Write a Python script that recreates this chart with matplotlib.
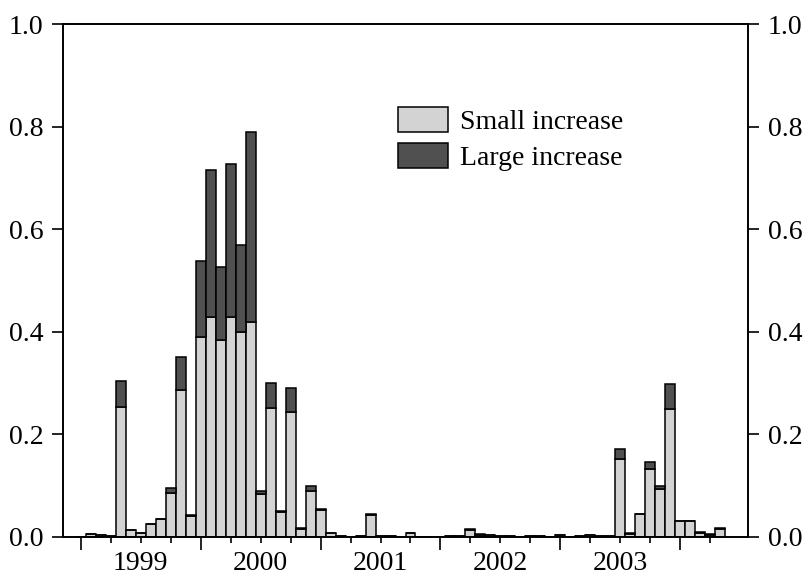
import matplotlib
matplotlib.use("Agg")
import matplotlib.pyplot as plt
from matplotlib.patches import Patch
import numpy as np
import pandas as pd

# monthly observations, Jan 1999 - May 2004
months = pd.period_range("1999-01", "2004-05", freq="M")

small = [0.0, 0.005, 0.003, 0.001, 0.253, 0.013, 0.007, 0.025, 0.036, 0.086, 0.287, 0.041,
         0.389, 0.429, 0.384, 0.428, 0.400, 0.419, 0.083, 0.251, 0.048, 0.244, 0.016, 0.090,
         0.052, 0.008, 0.001, 0.0, 0.001, 0.042, 0.002, 0.001, 0.0, 0.008, 0.0, 0.0,
         0.0, 0.001, 0.002, 0.013, 0.004, 0.004, 0.001, 0.001, 0.0, 0.001, 0.001, 0.0,
         0.003, 0.0, 0.001, 0.003, 0.001, 0.001, 0.152, 0.006, 0.044, 0.132, 0.093, 0.250,
         0.031, 0.031, 0.008, 0.004, 0.016]
large = [0.0, 0.001, 0.001, 0.0, 0.051, 0.0, 0.0, 0.0, 0.0, 0.009, 0.064, 0.002,
         0.149, 0.286, 0.143, 0.300, 0.169, 0.370, 0.007, 0.049, 0.002, 0.047, 0.001, 0.009,
         0.003, 0.0, 0.0, 0.0, 0.0, 0.002, 0.0, 0.0, 0.0, 0.0, 0.0, 0.0,
         0.0, 0.0, 0.0, 0.002, 0.001, 0.0, 0.0, 0.0, 0.0, 0.0, 0.0, 0.0,
         0.0, 0.0, 0.0, 0.0, 0.0, 0.0, 0.019, 0.001, 0.001, 0.014, 0.007, 0.048,
         0.001, 0.001, 0.001, 0.001, 0.001]

year_labels = ["1999", "2000", "2001", "2002", "2003"]
yticks = [0.0, 0.2, 0.4, 0.6, 0.8, 1.0]

plt.rcParams["font.family"] = ["Liberation Serif", "DejaVu Serif"]
plt.rcParams["font.size"] = 20

LIGHT = "#d3d3d3"
DARK = "#505050"

fig = plt.figure(figsize=(8.07, 5.78), dpi=100)
ax = fig.add_axes([62.7 / 807, 1 - 537 / 578, (748.3 - 62.7) / 807, (537 - 24) / 578])

x = np.arange(len(months))
small = np.array(small)
large = np.array(large)
ax.bar(x, small, width=1.0, color=LIGHT, edgecolor="black", linewidth=1.1, label="Small increase")
ax.bar(x, large, width=1.0, bottom=small, color=DARK, edgecolor="black", linewidth=1.1,
       label="Large increase")

ax.set_xlim(-1.8, 66.8)
ax.set_ylim(0, 1.0)

# x axis: long ticks at year starts, short ticks at quarters
year_pos = [i for i, m in enumerate(months) if m.month == 1]
quarter_pos = [i for i, m in enumerate(months) if m.month in (4, 7, 10)]
ax.set_xticks(year_pos)
ax.set_xticks(quarter_pos, minor=True)
ax.set_xticklabels([])
ax.tick_params(axis="x", which="major", direction="out", length=9, width=1.2)
ax.tick_params(axis="x", which="minor", direction="out", length=4, width=1.2)
for j, lab in enumerate(year_labels):
    ax.annotate(lab, xy=(year_pos[j] + 6, 0), xycoords=("data", "axes fraction"),
                xytext=(0, -9.8), textcoords="offset points", ha="center", va="top")

# y axis on both sides
ax.set_yticks(yticks)
ax.set_yticklabels(["%.1f" % v for v in yticks])
ax.tick_params(axis="y", which="major", direction="out", length=8, width=1.2, pad=6,
               left=True, right=True, labelleft=True, labelright=True)

for s in ax.spines.values():
    s.set_linewidth(1.4)

handles = [Patch(facecolor=LIGHT, edgecolor="black", linewidth=1.1),
           Patch(facecolor=DARK, edgecolor="black", linewidth=1.1)]
leg = ax.legend(handles, ["Small increase", "Large increase"], loc="upper left",
                bbox_to_anchor=((398 - 62.7) / (748.3 - 62.7), (537 - 107) / 513),
                frameon=False, borderpad=0, borderaxespad=0, handlelength=1.8,
                handleheight=1.0, handletextpad=0.45, labelspacing=0.28)

fig.savefig("out.png", dpi=100)
